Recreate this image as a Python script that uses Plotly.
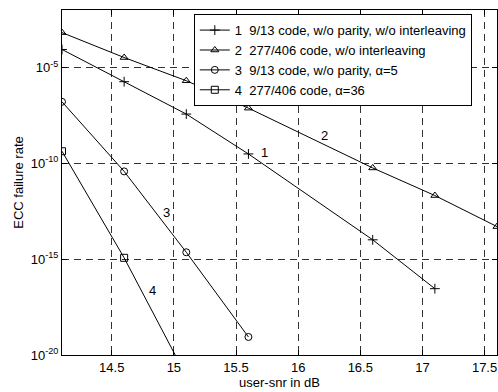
import plotly.graph_objects as go

x1 = [14.1, 14.6, 15.1, 15.6, 16.6, 17.1]
y1 = [-4.06, -5.74, -7.43, -9.51, -13.99, -16.54]
x2 = [14.1, 14.6, 15.1, 15.6, 16.6, 17.1, 17.6]
y2 = [-3.18, -4.48, -5.69, -7.12, -10.24, -11.68, -13.3]
x3 = [14.1, 14.6, 15.1, 15.6]
y3 = [-6.79, -10.42, -14.64, -19.06]
x4 = [14.1, 14.6, 15.1]
y4 = [-9.37, -14.93, -21.1]

names = ["1  9/13 code, w/o parity, w/o interleaving",
         "2  277/406 code, w/o interleaving",
         "3  9/13 code, w/o parity, \u03b1=5",
         "4  277/406 code, \u03b1=36"]
symbols = ["cross-thin-open", "triangle-up-open", "circle-open", "square-open"]

curve_labels = ["1", "2", "3", "4"]
label_x = [15.73, 16.21, 14.94, 14.83]
label_y = [-9.43, -8.56, -12.55, -16.63]

ytick_exp = [-20, -15, -10, -5]
xtick_vals = [14.5, 15, 15.5, 16, 16.5, 17, 17.5]

fig = go.Figure()
for xs, ys, nm, sym in zip([x1, x2, x3, x4], [y1, y2, y3, y4], names, symbols):
    fig.add_trace(go.Scatter(
        x=xs, y=[10 ** v for v in ys], name=nm, mode="lines+markers",
        line=dict(color="black", width=1),
        marker=dict(symbol=sym, size=7, color="black",
                    line=dict(color="black", width=1)),
    ))

for t, lx, ly in zip(curve_labels, label_x, label_y):
    fig.add_annotation(x=lx, y=ly, text=t, showarrow=False,
                       font=dict(size=13, color="black"))

fig.update_layout(
    width=498, height=392,
    margin=dict(l=62, r=1, t=10, b=37),
    paper_bgcolor="white", plot_bgcolor="white",
    font=dict(family="Liberation Sans, Arial, sans-serif", size=13, color="black"),
    legend=dict(x=0.303, y=0.988, xanchor="left", yanchor="top",
                bgcolor="white", bordercolor="black", borderwidth=1,
                font=dict(size=13), tracegroupgap=0, itemwidth=30),
    showlegend=True,
)
fig.update_xaxes(
    range=[14.1, 17.6], tickvals=xtick_vals,
    ticktext=[("%g" % v) for v in xtick_vals],
    showline=True, linecolor="black", linewidth=1, mirror="ticks",
    ticks="inside", ticklen=5, tickcolor="black",
    showgrid=True, gridcolor="#333333", griddash="7px,5px", gridwidth=1,
    zeroline=False,
    title=dict(text="user-snr in dB", standoff=4, font=dict(size=13)),
)
fig.update_yaxes(
    type="log", range=[-20, -2],
    tickvals=[10 ** e for e in ytick_exp],
    ticktext=["10<sup>%d</sup>" % e for e in ytick_exp],
    showline=True, linecolor="black", linewidth=1, mirror="ticks",
    ticks="inside", ticklen=5, tickcolor="black",
    showgrid=True, gridcolor="#333333", griddash="7px,5px", gridwidth=1,
    zeroline=False,
    title=dict(text="ECC failure rate", standoff=4, font=dict(size=13)),
)

fig.write_html("out.html", config={"displayModeBar": False},
               post_script="document.body.style.margin='0px';document.body.style.overflow='hidden';")
